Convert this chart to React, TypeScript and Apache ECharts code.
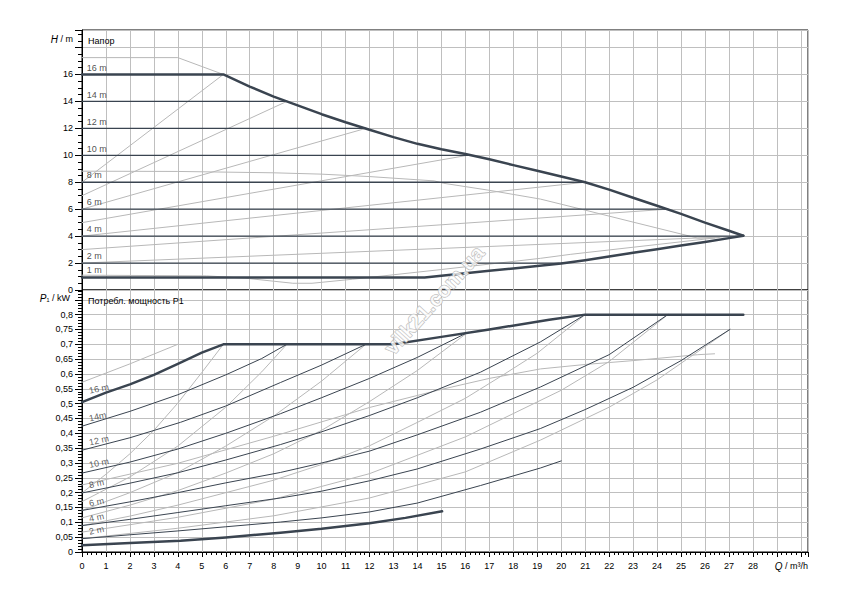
import React, { useEffect, useRef } from 'react';
import * as echarts from 'echarts';

// ---------- Head chart H(Q) ----------
const hEnvelope = [[0,16],[5.9,16],[7,15.1],[8,14.35],[9,13.7],[10,13.05],[11,12.45],[12,11.9],[13,11.35],[14,10.85],[15,10.45],[16,10.1],[17,9.7],[18,9.27],[19,8.85],[20,8.42],[21,8.0],[22,7.45],[23,6.85],[24,6.25],[25,5.65],[26,5.0],[27,4.4],[27.6,4.03]];
const hMin = [[0,0.93],[14.3,0.93],[15,1.05],[16,1.25],[17,1.43],[18,1.6],[19,1.78],[20,1.96],[21,2.2],[22,2.48],[23,2.76],[24,3.03],[25,3.3],[26,3.57],[27,3.85],[27.6,4.03]];
const dpcHeads = [14, 12, 10, 8, 6, 4, 2];
const dpcEndQ = [8.55, 11.85, 16.1, 21.0, 24.45, 27.6, 20.2];
const dpvEndH = [16, 14, 12, 10, 8, 6, 4];
const dpvStartH = [8, 7, 6, 5, 4, 3, 2];
const dpvEndQ = [5.9, 8.55, 11.85, 16.1, 21.0, 24.45, 27.6];
const hMaxGray = [[0,17.25],[4,17.25],[5.9,16]];
const hDescGray = [[0,8.82],[4,8.8],[8,8.7],[10,8.6],[12,8.42],[14.7,8.1],[15.1,7.92],[17,7.4],[19.13,6.75],[21,5.93],[23,5.04],[25.7,3.85],[26.4,3.86]];
const hLowGray = [[0,1.1],[5.2,1.05],[6.8,0.88],[8.8,0.5],[9.6,0.5],[11.3,0.8],[15,1.52],[19.13,2.35],[20.4,2.65],[26.6,3.9]];
const headLabels = ['16 m','14 m','12 m','10 m','8 m','6 m','4 m','2 m','1 m'];
const headLabelH = [16.5,14.5,12.5,10.5,8.5,6.5,4.5,2.5,1.45];

// ---------- Power chart P1(Q) ----------
const pEnvelope = [[0,0.505],[1,0.537],[2,0.565],[3,0.597],[4,0.634],[5,0.672],[5.9,0.7],[13,0.7],[15,0.725],[17,0.75],[19.5,0.783],[21,0.8],[27.6,0.8]];
const p14 = [[0,0.424],[2,0.474],[4,0.53],[6,0.597],[7.5,0.652],[8.55,0.7]];
const p12 = [[0,0.343],[2,0.385],[4.11,0.437],[6,0.492],[8.28,0.571],[10,0.63],[11.85,0.7]];
const p10 = [[0,0.266],[2,0.303],[4,0.347],[6,0.4],[8.28,0.466],[10,0.52],[12,0.585],[14,0.656],[16.1,0.74]];
const p8 = [[0,0.199],[2,0.232],[4,0.267],[6,0.31],[8.28,0.362],[10,0.405],[12,0.46],[14,0.52],[16.63,0.606],[19.13,0.708],[21,0.8]];
const p6 = [[0,0.14],[2,0.169],[4,0.2],[6,0.233],[8.28,0.268],[10,0.3],[12,0.34],[14,0.395],[16.63,0.471],[19.13,0.556],[22,0.665],[24.45,0.8]];
const p4 = [[0,0.089],[2,0.11],[4,0.133],[6,0.156],[8.28,0.182],[10,0.205],[12,0.24],[14,0.28],[16.63,0.347],[19.13,0.416],[21,0.48],[23,0.555],[25,0.645],[27.04,0.75]];
const p2 = [[0,0.045],[2,0.058],[4,0.071],[6,0.085],[8.28,0.101],[10,0.115],[12,0.135],[14,0.165],[16.63,0.224],[19.13,0.283],[20,0.307]];
const p1 = [[0,0.023],[2,0.03],[4.11,0.038],[6,0.049],[8.28,0.065],[10,0.078],[12,0.097],[13.5,0.115],[15.03,0.137]];
const pv16 = [[0,0.199],[1,0.262],[2,0.331],[3,0.41],[4,0.502],[5,0.605],[5.9,0.7]];
const pv14 = [[0,0.17],[2,0.253],[4,0.357],[6,0.488],[7.5,0.607],[8.55,0.7]];
const pv12 = [[0,0.14],[2,0.2],[4,0.268],[6,0.357],[8,0.458],[10,0.576],[11.85,0.7]];
const pv10 = [[0,0.115],[2,0.158],[4,0.207],[6,0.266],[8,0.331],[10,0.41],[12,0.507],[14,0.612],[16.1,0.74]];
const pv8 = [[0,0.089],[2,0.121],[4,0.158],[6,0.2],[8,0.242],[10,0.295],[12,0.358],[14,0.437],[16,0.518],[17.5,0.593],[19,0.67],[21,0.8]];
const pv6 = [[0,0.067],[4,0.117],[8,0.178],[12,0.264],[16,0.388],[20,0.545],[22,0.642],[24.45,0.8]];
const pv4 = [[0,0.045],[4,0.08],[8,0.122],[12,0.182],[16,0.27],[19.13,0.377],[22,0.488],[24,0.58],[27.04,0.75]];
const pMaxGray = [[0,0.572],[2,0.634],[4,0.7]];
const pDescGray = [[0,0.226],[4,0.299],[8,0.39],[12,0.487],[15,0.548],[17,0.585],[19.13,0.617],[21,0.632],[23,0.645],[25.7,0.665],[26.4,0.668]];
const powerLabels = ['16 m','14m','12 m','10 m','8 m','6 m','4 m','2 m'];
const powerLabelP = [0.543,0.45,0.369,0.293,0.225,0.163,0.111,0.068];

const DARK = '#3a4450';
const GRAY = '#b8b8b8';
const GRID = '#bfbfbf';
const FONT = '"Liberation Sans", Arial, sans-serif';

function ln(data: number[][], idx: number, color: string, width: number, z: number) {
  return {
    type: 'line', xAxisIndex: idx, yAxisIndex: idx, data, showSymbol: false, symbol: 'none',
    silent: true, lineStyle: { color, width, cap: 'round', join: 'round' }, z, animation: false,
  };
}

export default function App() {
  const ref = useRef<HTMLDivElement>(null);
  useEffect(() => {
    if (!ref.current) return;
    const chart = echarts.init(ref.current, undefined, { renderer: 'svg' });
    const series: any[] = [];
    series.push(ln(hMaxGray, 0, GRAY, 1, 2));
    series.push(ln(hDescGray, 0, GRAY, 1, 2));
    series.push(ln(hLowGray, 0, GRAY, 1, 2));
    dpvEndH.forEach((h, i) => series.push(ln([[0, dpvStartH[i]], [dpvEndQ[i], h]], 0, GRAY, 1, 2)));
    dpcHeads.forEach((h, i) => series.push(ln([[0, h], [dpcEndQ[i], h]], 0, DARK, 1.3, 3)));
    series.push(ln(hEnvelope, 0, DARK, 2.5, 4));
    series.push(ln(hMin, 0, DARK, 2.5, 4));
    [pMaxGray, pDescGray, pv16, pv14, pv12, pv10, pv8, pv6, pv4].forEach((d) => series.push(ln(d, 1, GRAY, 1, 2)));
    [p14, p12, p10, p8, p6, p4, p2].forEach((d) => series.push(ln(d, 1, DARK, 1, 3)));
    series.push(ln(pEnvelope, 1, DARK, 2.5, 4));
    series.push(ln(p1, 1, DARK, 2.5, 4));
    series.push({
      type: 'scatter', xAxisIndex: 0, yAxisIndex: 0, symbolSize: 0, silent: true, z: 5,
      data: headLabels.map((t, i) => ({ name: t, value: [0.2, headLabelH[i]] })),
      label: { show: true, position: 'right', distance: 0, formatter: '{b}', color: '#222', fontSize: 9, fontFamily: FONT },
    });
    series.push({
      type: 'scatter', xAxisIndex: 1, yAxisIndex: 1, symbolSize: 0, silent: true, z: 5,
      data: powerLabels.map((t, i) => ({ name: t, value: [0.3, powerLabelP[i]] })),
      label: { show: true, position: 'right', distance: 0, rotate: 12, formatter: '{b}', color: '#333', fontSize: 9, fontFamily: FONT },
    });

    const xCommon = { type: 'value', min: 0, max: 30.3, interval: 1 };
    const option: any = {
      animation: false,
      textStyle: { fontFamily: FONT },
      grid: [
        { left: 82, top: 30, width: 726, height: 260, show: true, borderColor: '#000', borderWidth: 1, backgroundColor: '#fff' },
        { left: 82, top: 290, width: 726, height: 262, show: true, borderColor: '#000', borderWidth: 1, backgroundColor: '#fff' },
      ],
      xAxis: [
        { ...xCommon, gridIndex: 0, axisLabel: { show: false }, axisTick: { show: false }, axisLine: { show: false },
          splitLine: { show: true, lineStyle: { color: GRID, width: 1 } } },
        { ...xCommon, gridIndex: 1,
          axisLine: { show: true, onZero: false, lineStyle: { color: '#000', width: 1 } },
          axisTick: { show: true, length: 5, lineStyle: { color: '#000' } },
          minorTick: { show: true, splitNumber: 5, length: 3, lineStyle: { color: '#000' } },
          axisLabel: { margin: 9, color: '#000', fontSize: 9, fontFamily: FONT,
            formatter: (v: number) => (v > 28.5 ? '' : String(Math.round(v))) },
          splitLine: { show: true, lineStyle: { color: GRID, width: 1 } } },
      ],
      yAxis: [
        { type: 'value', gridIndex: 0, min: 0, max: 19.3, interval: 2,
          axisLine: { show: true, lineStyle: { color: '#000' } },
          axisTick: { show: true, length: 7, lineStyle: { color: '#000' } },
          minorTick: { show: true, splitNumber: 4, length: 4, lineStyle: { color: '#000' } },
          axisLabel: { margin: 9, color: '#000', fontSize: 9, fontFamily: FONT,
            formatter: (v: number) => (v > 17 ? '' : String(Math.round(v))) },
          splitLine: { show: true, lineStyle: { color: GRID, width: 1 } } },
        { type: 'value', gridIndex: 1, min: 0, max: 0.883, interval: 0.05,
          axisLine: { show: true, lineStyle: { color: '#000' } },
          axisTick: { show: true, length: 7, lineStyle: { color: '#000' } },
          minorTick: { show: true, splitNumber: 5, length: 4, lineStyle: { color: '#000' } },
          axisLabel: { margin: 9, color: '#000', fontSize: 9, fontFamily: FONT,
            formatter: (v: number) => (v > 0.82 ? '' : String(Math.round(v * 100) / 100).replace('.', ',')) },
          splitLine: { show: true, lineStyle: { color: GRID, width: 1 } } },
      ],
      graphic: [
        { type: 'text', left: 88, top: 36, z: 10, style: { text: 'Напор', fill: '#000', fontSize: 9, fontFamily: FONT } },
        { type: 'text', left: 88, top: 296, z: 10, style: { text: 'Потребл. мощность P1', fill: '#000', fontSize: 9, fontFamily: FONT } },
        { type: 'text', x: 73, y: 39, z: 10, style: { text: '{i|H} / m', fill: '#000', fontSize: 9, fontFamily: FONT, align: 'right', verticalAlign: 'middle',
            rich: { i: { fontStyle: 'italic', fontSize: 10, fontFamily: FONT, fill: '#000' } } } },
        { type: 'text', x: 70, y: 298, z: 10, style: { text: '{i|P}₁ / kW', fill: '#000', fontSize: 9, fontFamily: FONT, align: 'right', verticalAlign: 'middle',
            rich: { i: { fontStyle: 'italic', fontSize: 10, fontFamily: FONT, fill: '#000' } } } },
        { type: 'text', x: 808, y: 566, z: 10, style: { text: '{i|Q} / m³/h', fill: '#000', fontSize: 9, fontFamily: FONT, align: 'right', verticalAlign: 'middle',
            rich: { i: { fontStyle: 'italic', fontSize: 10, fontFamily: FONT, fill: '#000' } } } },
        { type: 'text', x: 434, y: 300, rotation: 48 * Math.PI / 180, z: 20, silent: true,
          style: { text: 'vilk21.com.ua', fill: 'rgba(255,255,255,0.75)', stroke: '#b5b5b5', lineWidth: 1, fontSize: 21, fontWeight: 'bold', fontFamily: FONT, align: 'center', verticalAlign: 'middle' } },
      ],
      series,
    };
    chart.setOption(option);
    return () => chart.dispose();
  }, []);
  return <div ref={ref} style={{ position: 'absolute', left: 0, top: 0, width: 850, height: 600, background: '#fff' }} />;
}
